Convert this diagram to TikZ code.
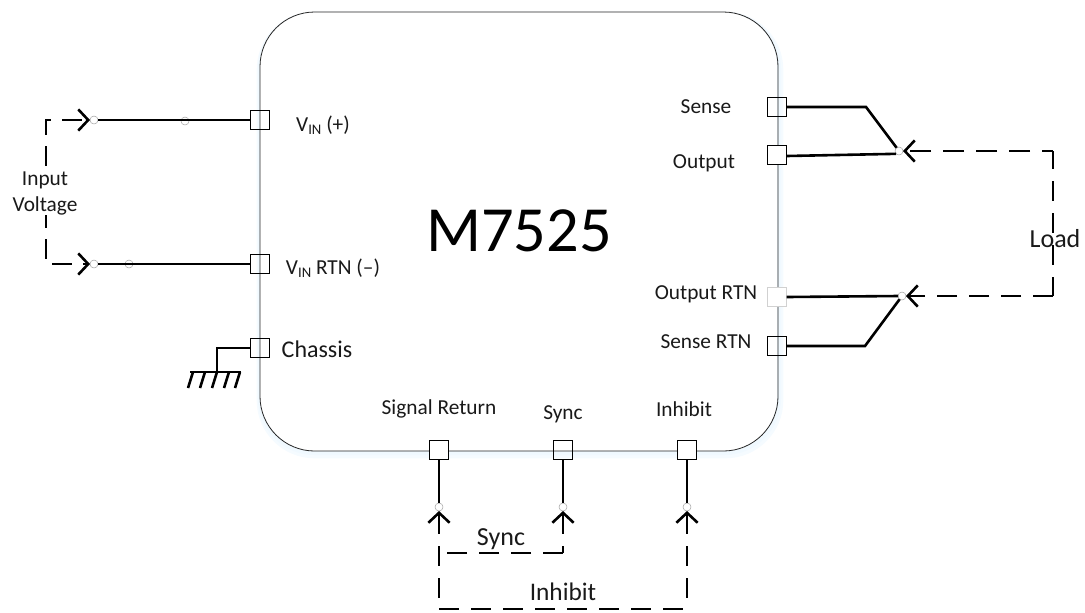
\documentclass[tikz,border=0pt]{standalone}
\usepackage{fontspec}
\setmainfont{Carlito}
\usetikzlibrary{arrows.meta}
\newcommand{\VIN}{V\raisebox{-.3ex}{\fontsize{11}{12}\selectfont IN}}
\tikzset{
  x=0.75pt,y=-0.75pt,
  sq/.style={draw=black,line width=0.6pt,minimum size=14.4pt,inner sep=0pt,outer sep=0pt},
  sqw/.style={sq,fill=white},
  sqg/.style={sq,fill=white,draw=black!18},
  dot/.style={circle,draw=black!35,line width=0.4pt,fill=white,minimum size=6pt,inner sep=0pt,outer sep=0pt},
  wire/.style={line width=1.95pt,black},
  barb/.tip={Straight Barb[length=7.5pt,width=16pt,line width=1.95pt]},
  dashline/.style={line width=1.95pt,black,dash pattern=on 15pt off 9pt},
  lab/.style={font=\fontsize{16}{19.5}\selectfont,inner sep=0pt,outer sep=0pt,text=black!90},
  big/.style={font=\fontsize{19.5}{22}\selectfont,inner sep=0pt,outer sep=0pt,text=black!90},
  glow/.style={rounded corners=41pt},
}
\begin{document}
\begin{tikzpicture}
\useasboundingbox (0,0) rectangle (1085,612);
% soft shadow of the body
\draw[glow,draw=blue!40!cyan!4,line width=5pt] (260,15) rectangle (780,455);
\draw[glow,draw=blue!40!cyan!6,line width=3pt] (260,14) rectangle (779,453);
\fill[white,rounded corners=41pt] (260,12) rectangle (777,450);
% body
\draw[line width=0.6pt,black!85,rounded corners=41pt] (260,12) rectangle (778,451);
\node[font=\fontsize{48.3}{50}\selectfont,inner sep=0pt] (title) at (519,231) {M7525};
% ports
\node[sq] (pvp) at (260,120) {};
\node[sq] (pvr) at (260,264) {};
\node[sq] (pch) at (260,348) {};
\node[sq] (pse) at (777,107) {};
\node[sqw] (pou) at (777,155) {};
\node[sqg] (por) at (777,297) {};
\node[sq] (psr) at (777,346) {};
\node[sqw] (psi) at (439,450) {};
\node[sq] (psy) at (563,450) {};
\node[sqw] (pin) at (687,450) {};
% terminals
\node[dot] (d1) at (94,120) {};
\node[dot] (d1b) at (185,121) {};
\node[dot] (d2) at (94,264) {};
\node[dot] (d2b) at (129,264) {};
\node[dot] (d3) at (899,151) {};
\node[dot] (d4) at (902,296) {};
\node[dot] (d5) at (439,507) {};
\node[dot] (d6) at (563,507) {};
\node[dot] (d7) at (687,507) {};
% helpers
\coordinate (a1) at (46,120);
\coordinate (a2) at (46,264);
\coordinate (b1) at (1053,151);
\coordinate (b2) at (1053,296);
\coordinate (c1) at (563,553);
\coordinate (c2) at (447,553);
\coordinate (e1) at (439,609);
\coordinate (e2) at (687,609);
\coordinate (s1) at (866,107);
\coordinate (s2) at (865,346);
\coordinate (g1) at (217,348);
\coordinate (g2) at (217,372);
\coordinate (g3) at (190,372);
\coordinate (g4) at (241,372);
% wires
\draw[wire] (pvp.west) -- (d1);
\draw[wire] (pvr.west) -- (d2);
\draw[wire] (pch.west) -- (g1) -- (g2);
\draw[wire] (g3) -- (g4);
\foreach \t in {193,205,217,229,240}{
  \draw[wire] (\t,372) -- (\t-5,388);
}
\draw[wire] (pse.east) -- (s1) -- (d3);
\draw[wire] ([yshift=-0.75pt]pou.east) -- (d3.south west);
\draw[wire] (por.east) -- (d4.west);
\draw[wire] (psr.east) -- (s2) -- (d4);
\draw[wire] (psi.south) -- (d5);
\draw[wire] (psy.south) -- (d6);
\draw[wire] (pin.south) -- (d7);
% dashed
\draw[dashline,dash pattern=on 15pt off 8.25pt,dash phase=19.5pt,{barb}-{barb}] (d1.west) -- (a1) -- (a2) -- (d2.west);
\draw[dashline,dash pattern=on 15.75pt off 9pt,dash phase=7.5pt,-{barb}] (b1) -- (d3.east);
\draw[dashline,dash phase=1.5pt] (b1) -- (b2);
\draw[dashline,-{barb}] (b2) -- (d4.east);
\draw[dashline,{barb}-] (d6.south) -- (c1);
\draw[dashline] (c1) -- (c2);
\draw[dashline,{barb}-] (d5.south) -- (e1);
\draw[dashline] (e1) -- (e2);
\draw[dashline,{barb}-] (d7.south) -- (e2);
% labels
\node[lab,fill=white,align=center,inner xsep=0pt,inner ysep=0pt] (linput) at (45,193) {Input\\Voltage};
\node[lab] (lvp) at (323,125) {\VIN\ (+)};
\node[lab] (lvr) at (333,268) {\VIN\ RTN (–)};
\node[font=\fontsize{18}{20}\selectfont,inner sep=0pt,text=black!90] (lch) at (317,349) {Chassis};
\node[lab] (lse) at (706,107) {Sense};
\node[lab] (lou) at (704,163) {Output};
\node[lab] (lor) at (706,294) {Output RTN};
\node[lab] (lsr) at (706,342) {Sense RTN};
\node[lab] (lsi) at (439,409) {Signal Return};
\node[lab] (lsy) at (563,414) {Sync};
\node[lab] (lih) at (684,409) {Inhibit};
\node[big] (lload) at (1055,239) {Load};
\node[big] (lsync) at (501,539) {Sync};
\node[font=\fontsize{19}{22}\selectfont,inner sep=0pt,text=black!90] (linh) at (563,592) {Inhibit};
\end{tikzpicture}
\end{document}
